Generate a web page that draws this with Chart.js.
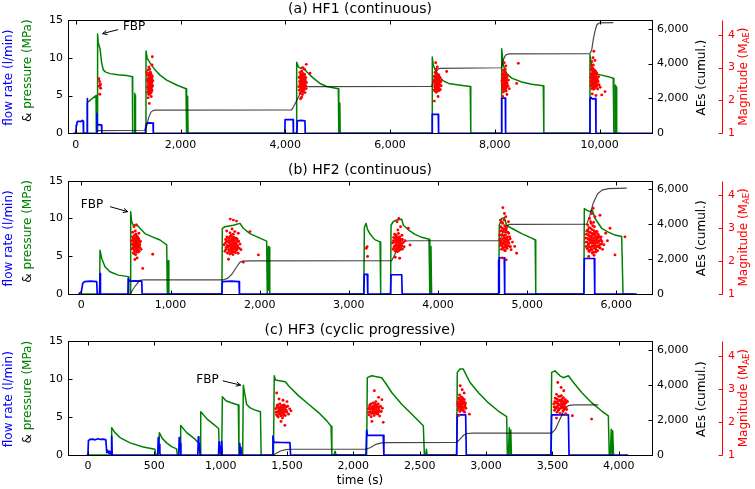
<!DOCTYPE html>
<html><head><meta charset="utf-8">
<script src="https://cdn.jsdelivr.net/npm/chart.js@4.4.1/dist/chart.umd.min.js"></script>
<style>
html,body{margin:0;padding:0;background:#fff;}
body{width:755px;height:489px;position:relative;overflow:hidden;}
canvas{position:absolute;left:0;}
</style></head><body>
<canvas id="cA" width="755" height="160" style="top:0px;width:755px;height:160px"></canvas>
<canvas id="cB" width="755" height="160" style="top:160px;width:755px;height:160px"></canvas>
<canvas id="cC" width="755" height="169" style="top:320px;width:755px;height:169px"></canvas>
<script>
// ---------------- tick labels ----------------
const hf1XTicks = [0, 2000, 4000, 6000, 8000, 10000];
const hf2XTicks = [0, 1000, 2000, 3000, 4000, 5000, 6000];
const hf3XTicks = [0, 500, 1000, 1500, 2000, 2500, 3000, 3500, 4000];
const pressureTicks = [0, 5, 10, 15];
const aeTicks = [0, 2000, 4000, 6000];
const magTicks = [1, 2, 3, 4];

// ---------------- HF1 ----------------
const hf1Pressure = [[0,0],[214,0],[218,4.1],[260,4.3],[310,4.6],[385,5.0],[390,0.2],[405,0.2],[415,13.15],[428,12.0],[461,11.2],[493,9.3],[524,8.4],[570,8.1],[652,7.9],[800,7.75],[971,7.65],[1078,7.5],[1085,0],[1118,0],[1124,5.3],[1130,0.4],[1136,5.0],[1142,0],[1334,0],[1339,10.9],[1364,9.9],[1402,9.5],[1448,9.0],[1511,8.4],[1607,7.7],[1734,7.05],[1925,6.4],[2103,5.9],[2108,0],[2120,0],[2126,4.9],[2132,0.3],[2137,4.6],[2142,0],[4210,0],[4216,9.4],[4247,8.8],[4293,8.6],[4342,8.7],[4407,8.15],[4533,7.3],[4661,6.6],[4789,6.2],[5011,5.9],[5020,0],[5034,0],[5040,4.0],[5047,0],[6800,0],[6805,10.1],[6824,9.0],[6862,8.4],[6925,7.7],[6990,7.05],[7116,6.6],[7307,6.4],[7530,6.2],[7540,0],[8124,0],[8130,11.2],[8161,9.0],[8226,7.9],[8321,7.3],[8512,6.8],[8703,6.5],[8924,6.3],[8935,0],[9810,0],[9816,10.4],[9859,8.4],[9910,7.9],[10038,7.7],[10165,7.5],[10260,7.3],[10272,0],[10296,0],[10302,6.4],[10318,6.1],[10326,0],[10400,0]];
const hf1Flow = [[-50,0],[0,0],[8,1.1],[20,1.45],[45,1.6],[90,1.55],[125,1.7],[140,1.6],[146,0],[214,0],[218,4.6],[223,0],[398,0],[402,2.65],[408,1.1],[450,1.15],[490,1.1],[495,0],[1322,0],[1330,0.6],[1345,1.2],[1362,1.35],[1420,1.38],[1474,1.35],[1479,0],[3990,0],[3995,1.8],[4148,1.8],[4153,0],[4222,0],[4227,1.65],[4300,1.7],[4374,1.65],[4379,0],[6800,0],[6805,2.5],[6920,2.5],[6925,0],[8125,0],[8130,4.65],[8200,4.65],[8205,0],[9811,0],[9816,4.6],[9835,4.75],[9860,4.55],[9925,4.6],[9930,0],[11000,0]];
const hf1AE = [[410,150],[1320,175],[1350,400],[1390,900],[1430,1200],[1470,1300],[1520,1330],[4120,1345],[4160,1550],[4230,1950],[4300,2400],[4360,2620],[4420,2680],[6793,2690],[6830,3050],[6870,3500],[6920,3700],[6960,3730],[8128,3760],[8150,4100],[8190,4420],[8226,4530],[8280,4560],[9816,4570],[9850,4800],[9880,5400],[9915,5900],[9943,6200],[9975,6300],[10007,6340],[10260,6350]];
const hf1MagC1 = [[440,2.66],[452,2.58],[468,2.50],[446,2.43],[474,2.37],[458,2.19],[463,2.46]];
const hf1MagC2 = [[1352,2.85],[1360,2.62],[1365,2.41],[1370,2.77],[1374,2.25],[1378,2.55],[1381,2.93],[1384,2.36],[1387,2.68],[1390,2.18],[1392,2.47],[1395,2.81],[1397,2.58],[1399,2.30],[1402,2.71],[1404,2.44],[1406,2.62],[1408,2.95],[1410,2.20],[1412,2.52],[1414,2.38],[1416,2.76],[1418,2.65],[1420,2.28],[1422,2.49],[1424,2.86],[1426,2.57],[1428,2.33],[1430,2.70],[1432,2.45],[1435,2.61],[1437,2.24],[1440,2.79],[1443,2.53],[1446,2.40],[1449,2.67],[1452,2.31],[1456,2.58],[1460,2.73],[1465,2.45],[1470,2.60],[1402,1.91],[1460,3.33],[1455,3.08],[1395,3.02],[1440,2.12],[1380,2.08],
  [1383,2.60],[1389,2.42],[1394,2.66],[1398,2.50],[1401,2.36],[1405,2.78],[1409,2.57],[1413,2.45],[1417,2.34],[1421,2.68],[1425,2.40],[1429,2.62],[1433,2.54],[1436,2.73],[1441,2.38],[1444,2.64],[1448,2.51],[1453,2.44],[1386,2.29],[1411,2.83],[1419,2.22],[1427,2.75],[1439,2.27],[1396,2.48],[1415,2.59]];
const hf1MagC3 = [[4255,2.42],[4262,2.70],[4268,2.31],[4273,2.58],[4278,2.85],[4283,2.22],[4287,2.49],[4291,2.66],[4295,2.37],[4299,2.78],[4302,2.55],[4306,2.29],[4309,2.62],[4312,2.44],[4315,2.90],[4318,2.35],[4321,2.71],[4324,2.51],[4327,2.18],[4330,2.60],[4333,2.40],[4336,2.82],[4339,2.53],[4342,2.26],[4345,2.68],[4348,2.46],[4351,2.75],[4354,2.33],[4357,2.57],[4360,2.64],[4364,2.41],[4368,2.79],[4372,2.50],[4376,2.24],[4380,2.62],[4385,2.45],[4390,2.70],[4396,2.36],[4402,2.55],[4400,3.10],[4470,2.83],[4290,2.05],[4330,3.00],[4365,2.95],[4310,2.10],
  [4281,2.52],[4286,2.74],[4292,2.45],[4297,2.61],[4301,2.39],[4305,2.81],[4308,2.50],[4313,2.67],[4317,2.28],[4320,2.56],[4323,2.43],[4326,2.73],[4329,2.34],[4332,2.65],[4335,2.49],[4338,2.70],[4341,2.38],[4344,2.58],[4347,2.31],[4350,2.62],[4353,2.48],[4356,2.77],[4359,2.40],[4362,2.55],[4366,2.68],[4370,2.36],[4374,2.59],[4378,2.47]];
const hf1MagC4 = [[6830,2.55],[6838,2.32],[6845,2.74],[6851,2.46],[6857,2.85],[6862,2.28],[6866,2.61],[6870,2.40],[6874,2.70],[6878,2.52],[6882,2.25],[6886,2.66],[6890,2.44],[6894,2.80],[6898,2.35],[6902,2.58],[6906,2.48],[6910,2.72],[6914,2.30],[6918,2.63],[6922,2.42],[6926,2.55],[6930,2.78],[6935,2.37],[6940,2.60],[6946,2.47],[6952,2.69],[6958,2.33],[6965,2.56],[6975,2.45],[6985,2.62],[6870,3.15],[6900,3.02],[7080,2.88],[6845,1.98],[6915,2.12],[6880,2.95],
  [6848,2.60],[6855,2.40],[6860,2.70],[6868,2.51],[6872,2.34],[6876,2.62],[6884,2.47],[6888,2.75],[6892,2.57],[6896,2.42],[6900,2.68],[6904,2.36],[6908,2.60],[6912,2.50],[6916,2.76],[6920,2.45],[6928,2.65],[6933,2.52],[6938,2.30],[6944,2.71]];
const hf1MagC5 = [[8135,2.60],[8142,2.35],[8148,2.78],[8153,2.48],[8158,2.92],[8163,2.26],[8167,2.66],[8171,2.43],[8175,2.85],[8179,2.55],[8183,2.31],[8187,2.72],[8191,2.50],[8195,2.95],[8199,2.38],[8203,2.64],[8207,2.46],[8211,2.80],[8215,2.29],[8219,2.58],[8224,2.41],[8229,2.69],[8235,2.52],[8242,2.76],[8250,2.44],[8260,2.62],[8275,2.36],[8180,3.15],[8210,3.05],[8448,3.13],[8416,2.52],[8150,2.12],[8230,2.18],
  [8140,2.50],[8146,2.70],[8151,2.38],[8156,2.62],[8160,2.80],[8165,2.45],[8169,2.56],[8173,2.34],[8177,2.70],[8181,2.62],[8185,2.42],[8189,2.86],[8193,2.58],[8197,2.47],[8201,2.75],[8205,2.55],[8209,2.36],[8213,2.66],[8217,2.49],[8222,2.60]];
const hf1MagC6 = [[9825,2.70],[9832,2.45],[9838,2.95],[9843,2.58],[9848,3.05],[9852,2.36],[9856,2.80],[9860,2.52],[9864,2.98],[9868,2.41],[9872,2.74],[9876,2.62],[9880,3.08],[9884,2.34],[9888,2.86],[9892,2.55],[9896,2.70],[9900,2.44],[9904,2.92],[9908,2.60],[9912,2.38],[9916,2.78],[9920,2.50],[9924,2.88],[9928,2.66],[9932,2.42],[9936,2.73],[9940,2.56],[9945,2.83],[9950,2.47],[9956,2.64],[9962,2.35],[9970,2.58],[9980,2.72],[9990,2.48],[9875,3.30],[9890,3.50],[9910,3.22],[9860,2.20],[9930,2.15],[10103,2.27],[10040,2.17],[10010,2.40],[9850,3.18],
  [9830,2.58],[9836,2.80],[9841,2.47],[9846,2.72],[9850,2.62],[9854,2.92],[9858,2.68],[9862,2.45],[9866,2.85],[9870,2.56],[9874,2.97],[9878,2.48],[9882,2.75],[9886,2.64],[9890,2.40],[9894,2.82],[9898,2.58],[9902,2.76],[9906,2.50],[9910,2.88],[9914,2.66],[9918,2.44],[9922,2.72],[9926,2.57],[9930,2.80],[9934,2.52],[9938,2.65],[9943,2.43],[9948,2.70],[9953,2.58]];
const hf1Fbp = [510, 13.2];

// ---------------- HF2 ----------------
const hf2Pressure = [[0,0],[204,0],[209,5.8],[228,4.7],[265,3.6],[321,2.95],[414,2.5],[526,2.3],[532,0],[548,0],[553,10.9],[564,9.6],[582,9.1],[620,9.2],[657,8.7],[713,8.0],[789,7.6],[882,7.15],[957,6.5],[964,0],[970,0],[975,4.4],[981,0],[1576,0],[1581,8.7],[1611,8.9],[1704,9.1],[1779,9.35],[1816,8.7],[1891,8.0],[2003,7.4],[2078,7.0],[2085,0],[2093,0],[2097,6.3],[2102,0.5],[2107,6.2],[2113,0],[3168,0],[3174,8.8],[3193,9.35],[3208,8.6],[3240,7.9],[3290,7.2],[3350,6.9],[3357,0],[3468,0],[3473,9.1],[3499,9.6],[3537,9.8],[3593,9.9],[3611,9.1],[3667,8.5],[3742,7.9],[3817,7.5],[3899,7.25],[3908,0],[3916,0],[3921,6.3],[3928,0],[4682,0],[4687,9.1],[4714,10.0],[4743,10.1],[4770,9.1],[4826,8.7],[4939,8.0],[5051,7.4],[5090,7.15],[5096,0],[5636,0],[5641,11.3],[5668,11.1],[5705,10.9],[5731,11.1],[5761,10.0],[5836,8.7],[5910,8.2],[5985,7.8],[6060,7.6],[6075,0],[6200,0]];
const hf2Flow = [[-30,0],[0,0.3],[15,1.4],[35,1.65],[100,1.7],[172,1.65],[178,0],[205,0],[209,2.7],[214,0],[522,0],[526,2.0],[535,1.8],[545,1.7],[600,1.75],[677,1.7],[682,0],[1576,0],[1581,1.65],[1680,1.7],[1768,1.65],[1773,0],[3168,0],[3173,2.6],[3207,2.6],[3212,0],[3468,0],[3473,2.55],[3593,2.55],[3598,0],[4676,0],[4680,4.5],[4684,0.2],[4687,4.8],[4743,4.8],[4748,0],[5636,0],[5641,4.7],[5753,4.7],[5758,0],[6230,0]];
const hf2AE = [[550,0],[570,200],[610,500],[657,790],[700,805],[1592,815],[1640,900],[1690,1150],[1740,1550],[1780,1830],[1810,1890],[1900,1900],[3480,1910],[3510,2200],[3550,2650],[3600,2950],[3640,3040],[3700,3055],[4695,3065],[4720,3450],[4760,3850],[4795,3990],[4850,4000],[5668,4010],[5700,4450],[5740,5200],[5790,5750],[5840,5960],[5910,6050],[6116,6075]];
const hf2MagC1 = [[560,2.62],[567,2.38],[573,2.74],[578,2.50],[583,2.25],[587,2.66],[591,2.43],[595,2.78],[598,2.32],[601,2.57],[604,2.46],[607,2.70],[610,2.20],[613,2.54],[616,2.40],[619,2.64],[622,2.28],[625,2.58],[628,2.47],[631,2.72],[634,2.35],[637,2.55],[640,2.44],[644,2.68],[648,2.30],[652,2.52],[657,2.41],[663,2.60],[670,2.36],[590,3.05],[615,3.10],[605,2.92],[600,2.05],[625,2.10],[688,1.78],[800,2.21],[575,2.88],[645,2.85],
  [570,2.52],[576,2.62],[580,2.41],[585,2.70],[589,2.55],[593,2.35],[596,2.62],[599,2.48],[603,2.68],[606,2.30],[609,2.60],[612,2.44],[615,2.72],[618,2.52],[621,2.38],[624,2.66],[627,2.33],[630,2.56],[633,2.48],[636,2.64],[639,2.28],[642,2.54],[646,2.44],[650,2.62],[655,2.50],[611,2.82],[597,2.22],[623,2.76]];
const hf2MagC2 = [[1600,2.50],[1610,2.30],[1618,2.66],[1625,2.42],[1632,2.74],[1638,2.25],[1644,2.58],[1650,2.36],[1655,2.70],[1660,2.47],[1665,2.22],[1670,2.62],[1675,2.40],[1680,2.78],[1684,2.52],[1688,2.31],[1692,2.66],[1696,2.45],[1700,2.20],[1704,2.58],[1708,2.37],[1712,2.72],[1716,2.49],[1720,2.28],[1725,2.64],[1730,2.41],[1735,2.55],[1740,2.33],[1746,2.68],[1752,2.46],[1758,2.24],[1765,2.60],[1772,2.39],[1780,2.52],[1790,2.35],[1670,3.28],[1705,3.25],[1740,3.22],[1690,2.98],[1720,2.90],[1891,2.90],[1985,2.19],[1816,1.97],[1650,2.06],[1760,2.85],[1630,2.92],
  [1615,2.55],[1622,2.36],[1628,2.60],[1635,2.48],[1641,2.70],[1647,2.44],[1652,2.62],[1658,2.30],[1662,2.55],[1667,2.75],[1672,2.48],[1677,2.60],[1682,2.35],[1686,2.68],[1690,2.50],[1694,2.40],[1698,2.72],[1702,2.46],[1706,2.63],[1710,2.29],[1714,2.55],[1718,2.67],[1722,2.44],[1727,2.52],[1732,2.70],[1737,2.38],[1742,2.58],[1748,2.48],[1754,2.62],[1760,2.40],[1668,2.86],[1703,2.82],[1685,2.25],[1728,2.26]];
const hf2MagC3 = [[3205,2.44],[3210,2.14],[3195,2.39]];
const hf2MagC4 = [[3490,2.55],[3497,2.36],[3503,2.72],[3509,2.45],[3514,2.82],[3519,2.31],[3524,2.64],[3528,2.48],[3532,2.76],[3536,2.39],[3540,2.58],[3544,2.29],[3548,2.68],[3552,2.50],[3556,2.84],[3560,2.42],[3564,2.61],[3568,2.34],[3572,2.74],[3576,2.53],[3580,2.40],[3585,2.66],[3590,2.46],[3596,2.79],[3602,2.37],[3610,2.57],[3620,2.44],[3630,2.62],[3540,3.20],[3560,3.30],[3580,3.05],[3667,3.00],[3686,2.49],[3520,2.12],[3570,2.09],[3550,2.95],
  [3500,2.62],[3506,2.41],[3511,2.58],[3516,2.70],[3521,2.46],[3526,2.80],[3530,2.52],[3534,2.36],[3538,2.66],[3542,2.48],[3546,2.74],[3550,2.40],[3554,2.60],[3558,2.32],[3562,2.70],[3566,2.50],[3570,2.58],[3574,2.44],[3578,2.64],[3583,2.36],[3588,2.56],[3594,2.48],[3600,2.66]];
const hf2MagC5 = [[4690,2.80],[4697,2.48],[4703,3.05],[4708,2.62],[4713,2.36],[4718,2.92],[4722,2.55],[4726,3.15],[4730,2.42],[4734,2.78],[4738,2.60],[4742,2.98],[4746,2.33],[4750,2.70],[4754,2.50],[4758,2.88],[4762,2.44],[4766,2.66],[4770,3.02],[4775,2.39],[4780,2.74],[4786,2.57],[4792,2.85],[4800,2.46],[4810,2.68],[4820,2.35],[4835,2.58],[4727,3.63],[4760,3.35],[4745,3.45],[4882,2.24],[4860,2.45],[4720,2.10],[4765,2.04],[4700,3.25],[4790,3.20],
  [4693,2.66],[4700,2.92],[4705,2.55],[4710,2.80],[4715,2.48],[4720,3.00],[4724,2.68],[4728,2.40],[4732,2.90],[4736,2.52],[4740,2.74],[4744,2.62],[4748,3.08],[4752,2.42],[4756,2.80],[4760,2.58],[4764,2.95],[4768,2.50],[4772,2.70],[4777,2.46],[4782,2.88],[4788,2.63],[4795,2.55],[4803,2.74],[4812,2.44],[4718,3.18],[4740,3.25],[4755,2.32]];
const hf2MagC6 = [[5655,2.70],[5662,2.45],[5668,2.92],[5673,2.58],[5678,3.10],[5682,2.36],[5686,2.80],[5690,2.52],[5694,3.02],[5698,2.30],[5702,2.66],[5706,2.88],[5710,2.42],[5714,2.74],[5718,3.15],[5722,2.55],[5726,2.34],[5730,2.96],[5734,2.62],[5738,2.46],[5742,2.84],[5746,2.27],[5750,2.70],[5754,3.05],[5758,2.50],[5762,2.78],[5766,2.38],[5770,2.64],[5774,2.90],[5778,2.44],[5782,2.72],[5786,2.56],[5790,2.32],[5795,2.82],[5800,2.60],[5806,2.48],[5812,2.74],[5818,2.40],[5825,2.66],[5835,2.52],[5845,2.36],[5700,3.30],[5725,3.45],[5760,3.35],[5740,3.61],[5817,3.40],[5929,3.00],[5985,2.19],[6097,2.74],[5880,2.85],[5690,2.14],[5750,2.18],[5860,2.50],[5900,2.62],
  [5658,2.58],[5664,2.82],[5670,2.40],[5675,2.70],[5680,2.95],[5684,2.50],[5688,2.66],[5692,2.88],[5696,2.44],[5700,2.76],[5704,2.56],[5708,3.00],[5712,2.62],[5716,2.36],[5720,2.85],[5724,2.68],[5728,2.46],[5732,2.78],[5736,3.08],[5740,2.55],[5744,2.70],[5748,2.40],[5752,2.92],[5756,2.62],[5760,2.48],[5764,2.84],[5768,2.56],[5772,2.74],[5776,2.33],[5780,2.66],[5784,2.90],[5788,2.46],[5792,2.70],[5797,2.58],[5802,2.76],[5808,2.42],[5814,2.62],[5820,2.52],[5828,2.74],[5838,2.60],[5712,3.20],[5745,3.18],[5695,2.30],[5770,2.28],[5730,2.25]];
const hf2Fbp = [520, 10.9];

// ---------------- HF3 ----------------
const hf3Pressure = [[0,0],[174,0],[179,3.6],[204,2.95],[242,2.3],[317,1.6],[417,1.06],[505,0.75],[511,0],[533,0],[538,2.95],[560,2.2],[593,1.6],[630,1.1],[668,0.8],[674,0],[694,0],[699,3.9],[744,2.95],[800,2.2],[839,1.5],[845,0],[848,0],[852,5.7],[900,4.7],[950,4.0],[985,3.5],[991,0],[1008,0],[1013,7.7],[1040,7.15],[1080,6.9],[1133,6.6],[1138,0],[1166,0],[1171,9.2],[1185,7.8],[1195,6.7],[1220,6.25],[1255,5.95],[1300,5.7],[1305,0],[1398,0],[1404,10.45],[1413,9.9],[1488,9.66],[1513,9.1],[1588,7.8],[1663,6.7],[1738,5.6],[1800,4.5],[1832,3.8],[1838,0],[1855,0],[1862,0.5],[1870,0],[2100,0],[2105,10.2],[2138,10.45],[2213,10.2],[2238,9.6],[2289,8.25],[2364,6.7],[2439,5.4],[2527,3.85],[2535,0],[2545,0],[2550,0.75],[2556,0],[2778,0],[2783,10.9],[2803,11.35],[2828,11.35],[2840,10.9],[2878,9.6],[2941,8.25],[3016,6.9],[3092,5.8],[3155,5.07],[3160,0],[3168,0],[3175,3.6],[3181,0],[3186,3.3],[3191,0],[3489,0],[3494,10.9],[3519,11.1],[3557,10.45],[3582,10.2],[3620,10.45],[3657,9.6],[3720,8.25],[3795,6.9],[3871,5.8],[3921,5.15],[3928,0],[3936,0],[3943,3.4],[3949,0],[3954,3.2],[3960,0]];
const hf3Flow = [[-10,0],[0,0],[4,1.9],[15,2.05],[35,2.1],[55,2.0],[75,2.15],[95,2.05],[115,2.1],[135,2.0],[142,0.3],[150,0.6],[158,0.2],[165,0.5],[172,0],[176,0],[179,2.5],[183,0],[526,0],[530,2.3],[534,0.7],[538,1.4],[542,0.2],[548,0],[684,0],[688,2.3],[692,0.8],[696,1.5],[700,0],[828,0],[832,2.4],[836,0.7],[840,1.5],[846,0],[984,0],[988,1.7],[992,0.4],[1000,1.1],[1004,0],[1008,1.8],[1012,0],[1140,0],[1144,1.5],[1148,0.4],[1152,1.0],[1158,0],[1390,0],[1394,2.5],[1400,1.7],[1460,1.65],[1522,1.63],[1527,0],[2095,0],[2100,3.3],[2106,2.6],[2225,2.6],[2230,0],[2778,0],[2783,5.3],[2846,5.3],[2851,0],[3489,0],[3494,5.3],[3620,5.3],[3625,0],[4071,0]];
const hf3AE = [[1397,0],[1420,100],[1450,230],[1490,310],[1530,330],[2100,340],[2130,430],[2170,610],[2213,690],[2260,705],[2778,715],[2800,880],[2830,1130],[2853,1230],[2900,1245],[3494,1255],[3520,1450],[3560,2100],[3590,2600],[3620,2820],[3660,2865],[3846,2870]];
const hf3MagC5 = [[1415,2.40],[1421,2.22],[1426,2.50],[1430,2.31],[1434,2.15],[1438,2.44],[1442,2.28],[1446,2.55],[1450,2.36],[1454,2.19],[1458,2.47],[1462,2.33],[1466,2.12],[1470,2.42],[1474,2.26],[1478,2.52],[1482,2.38],[1487,2.20],[1492,2.45],[1498,2.30],[1505,2.48],[1512,2.24],[1520,2.40],[1530,2.34],[1422,2.88],[1440,2.70],[1470,2.66],[1484,1.90],[1500,2.62],[1455,2.02],
  [1418,2.30],[1424,2.44],[1428,2.18],[1432,2.52],[1436,2.35],[1440,2.24],[1444,2.40],[1448,2.30],[1452,2.46],[1456,2.26],[1460,2.38],[1464,2.50],[1468,2.32],[1472,2.20],[1476,2.44],[1480,2.30],[1486,2.48],[1494,2.36]];
const hf3MagC6 = [[2112,2.40],[2118,2.22],[2124,2.52],[2129,2.31],[2134,2.16],[2139,2.46],[2144,2.28],[2149,2.58],[2153,2.36],[2157,2.20],[2161,2.50],[2165,2.34],[2169,2.62],[2173,2.25],[2177,2.44],[2182,2.30],[2187,2.55],[2192,2.38],[2198,2.18],[2204,2.48],[2210,2.32],[2218,2.42],[2158,2.95],[2190,2.75],[2225,1.99],[2140,2.02],[2215,2.68],
  [2115,2.30],[2121,2.46],[2127,2.38],[2132,2.55],[2137,2.26],[2142,2.40],[2147,2.33],[2151,2.48],[2155,2.28],[2159,2.42],[2163,2.56],[2167,2.30],[2171,2.45],[2175,2.35],[2180,2.52],[2185,2.24],[2190,2.44],[2196,2.32]];
const hf3MagC7 = [[2786,2.55],[2790,2.38],[2794,2.72],[2797,2.46],[2800,2.82],[2803,2.32],[2806,2.62],[2809,2.50],[2812,2.76],[2815,2.40],[2818,2.66],[2821,2.54],[2824,2.35],[2827,2.70],[2830,2.45],[2834,2.60],[2838,2.30],[2842,2.52],[2848,2.42],[2805,3.10],[2820,2.98],[2874,2.24],[2795,2.20],[2835,2.88],
  [2788,2.62],[2792,2.48],[2796,2.56],[2799,2.70],[2802,2.44],[2805,2.52],[2808,2.66],[2811,2.38],[2814,2.58],[2817,2.48],[2820,2.74],[2823,2.44],[2826,2.60],[2829,2.36],[2832,2.55],[2836,2.68],[2840,2.46],[2844,2.58]];
const hf3MagC8 = [[3510,2.55],[3516,2.36],[3521,2.72],[3526,2.46],[3531,2.84],[3535,2.30],[3539,2.62],[3543,2.50],[3547,2.78],[3551,2.40],[3555,2.66],[3559,2.26],[3563,2.56],[3567,2.80],[3571,2.44],[3575,2.64],[3579,2.34],[3583,2.74],[3587,2.52],[3591,2.42],[3596,2.68],[3601,2.58],[3607,2.38],[3613,2.62],[3540,3.20],[3565,3.05],[3585,2.95],[3795,2.09],[3650,2.19],[3530,2.12],[3600,2.25],
  [3513,2.46],[3518,2.62],[3523,2.40],[3528,2.58],[3533,2.70],[3537,2.44],[3541,2.56],[3545,2.36],[3549,2.66],[3553,2.52],[3557,2.78],[3561,2.42],[3565,2.62],[3569,2.48],[3573,2.70],[3577,2.54],[3581,2.44],[3585,2.60],[3589,2.38],[3594,2.56],[3599,2.46],[3605,2.64]];
const hf3Fbp = [1151, 9.22];

// ---------------- drawing ----------------
Chart.defaults.font.family = '"DejaVu Sans", sans-serif';
Chart.defaults.font.size = 11;
Chart.defaults.color = '#000';

const FONT = '"DejaVu Sans", sans-serif';
const xy = arr => arr.map(p => ({x: p[0], y: p[1]}));
const fmt = v => String(v).replace(/\B(?=(\d{3})+(?!\d))/g, ',');
const setTicks = list => (s => { s.ticks = list.map(v => ({value: v})); });

function vtext(c, x, y, parts) {
  c.save();
  c.translate(x, y);
  c.rotate(-Math.PI / 2);
  c.textBaseline = 'middle';
  c.textAlign = 'left';
  let w = 0;
  parts.forEach(p => { c.font = p.font; p.w = c.measureText(p.t).width; w += p.w; });
  let cx = -w / 2;
  parts.forEach(p => { c.font = p.font; c.fillStyle = p.color; c.fillText(p.t, cx, p.dy || 0); cx += p.w; });
  c.restore();
}

function makeDecor(cfg) {
  return {
    id: 'decor',
    afterDraw(chart) {
      const c = chart.ctx, a = chart.chartArea, s = chart.scales;
      const L = Math.round(a.left) + 0.5, R = Math.round(a.right) + 0.5;
      const T = Math.round(a.top) + 0.5, B = Math.round(a.bottom) + 0.5;
      const TL = 4;
      c.save();
      c.lineWidth = 1;
      c.strokeStyle = '#000';
      c.strokeRect(L, T, R - L, B - T);
      c.beginPath();
      s.x.ticks.forEach(t => {
        const x = Math.round(s.x.getPixelForValue(t.value)) + 0.5;
        c.moveTo(x, B); c.lineTo(x, B - TL);
        c.moveTo(x, T); c.lineTo(x, T + TL);
      });
      s.y.ticks.forEach(t => {
        const y = Math.round(s.y.getPixelForValue(t.value)) + 0.5;
        c.moveTo(L, y); c.lineTo(L + TL, y);
      });
      s.yAE.ticks.forEach(t => {
        const y = Math.round(s.yAE.getPixelForValue(t.value)) + 0.5;
        c.moveTo(R, y); c.lineTo(R - TL, y);
      });
      c.stroke();
      const rx = Math.round(s.yM.left) + 0.5;
      c.strokeStyle = '#ff0000';
      c.beginPath();
      c.moveTo(rx, T); c.lineTo(rx, B);
      s.yM.ticks.forEach(t => {
        const y = Math.round(s.yM.getPixelForValue(t.value)) + 0.5;
        c.moveTo(rx, y); c.lineTo(rx - TL, y);
      });
      c.stroke();
      const cxm = (a.left + a.right) / 2, cym = (a.top + a.bottom) / 2;
      c.fillStyle = '#000';
      c.font = '14px ' + FONT;
      c.textAlign = 'center'; c.textBaseline = 'middle';
      c.fillText(cfg.title, cxm, cfg.titleY);
      if (cfg.xlabel) {
        c.font = '12px ' + FONT;
        c.fillText(cfg.xlabel, cxm, cfg.xlabelY);
      }
      const f12 = '12px ' + FONT;
      vtext(c, 9, cym + 1, [{t: 'flow rate (l/min)', color: '#0000ff', font: f12}]);
      vtext(c, 28, cym - 6, [{t: '& ', color: '#000', font: f12}, {t: 'pressure (MPa)', color: '#008000', font: f12}]);
      vtext(c, 701.5, cym + 1, [{t: 'AEs (cumul.)', color: '#000', font: f12}]);
      vtext(c, 744, cym, [{t: 'Magnitude (M', color: '#ff0000', font: f12}, {t: 'AE', color: '#ff0000', font: '8.5px ' + FONT, dy: 3}, {t: ')', color: '#ff0000', font: f12}]);
      const tipX = s.x.getPixelForValue(cfg.fbp[0]);
      const tipY = s.y.getPixelForValue(cfg.fbp[1]);
      const tx = tipX + cfg.tail[0], ty = tipY + cfg.tail[1];
      c.strokeStyle = '#000'; c.lineWidth = 1;
      c.beginPath(); c.moveTo(tx, ty); c.lineTo(tipX, tipY); c.stroke();
      const ang = Math.atan2(tipY - ty, tipX - tx);
      c.beginPath();
      c.moveTo(tipX - 5 * Math.cos(ang - 0.45), tipY - 5 * Math.sin(ang - 0.45));
      c.lineTo(tipX, tipY);
      c.lineTo(tipX - 5 * Math.cos(ang + 0.45), tipY - 5 * Math.sin(ang + 0.45));
      c.stroke();
      c.font = '12px ' + FONT; c.fillStyle = '#000';
      c.textAlign = 'center'; c.textBaseline = 'middle';
      c.fillText('FBP', tipX + cfg.text[0], tipY + cfg.text[1]);
      c.restore();
    }
  };
}

function makePanel(p) {
  const H = p.h;
  const axisBase = {grid: {display: false, drawTicks: false}, border: {display: false}};
  new Chart(document.getElementById(p.id), {
    type: 'scatter',
    data: {datasets: [
      {label: 'magnitude', data: xy(p.mag), yAxisID: 'yM', showLine: false, pointRadius: 1.45, pointBackgroundColor: '#ff0000', pointBorderWidth: 0, backgroundColor: '#ff0000', order: 0},
      {label: 'AEs', data: xy(p.ae), yAxisID: 'yAE', showLine: true, borderColor: 'rgba(0,0,0,0.72)', borderWidth: 1.2, pointRadius: 0, fill: false, borderJoinStyle: 'round', order: 1},
      {label: 'flow', data: xy(p.flow), yAxisID: 'y', showLine: true, borderColor: '#0000ff', borderWidth: 1.7, pointRadius: 0, fill: false, borderJoinStyle: 'round', order: 2},
      {label: 'pressure', data: xy(p.pres), yAxisID: 'y', showLine: true, borderColor: '#008000', borderWidth: 1.5, pointRadius: 0, fill: false, borderJoinStyle: 'round', order: 3}
    ]},
    options: {
      responsive: false, animation: false, devicePixelRatio: 1,
      layout: {padding: {top: p.top, left: 0, right: 0, bottom: 0}},
      plugins: {legend: {display: false}, tooltip: {enabled: false}},
      scales: {
        x: Object.assign({type: 'linear', position: 'bottom', min: p.xmin, max: p.xmax,
          afterBuildTicks: setTicks(p.xticks),
          ticks: {callback: v => fmt(v), maxRotation: 0, minRotation: 0, autoSkip: false, padding: 5, color: '#000'},
          afterFit: s => { s.height = H - p.bottom; }}, axisBase),
        y: Object.assign({type: 'linear', position: 'left', min: 0, max: 15,
          afterBuildTicks: setTicks(pressureTicks),
          ticks: {padding: 5, color: '#000'},
          afterFit: s => { s.width = 68; }}, axisBase),
        yAE: Object.assign({type: 'linear', position: 'right', weight: 0, min: 0, max: 6500,
          afterBuildTicks: setTicks(aeTicks),
          ticks: {padding: 5, color: '#000', callback: v => fmt(v)},
          afterFit: s => { s.width = 70; }}, axisBase),
        yM: Object.assign({type: 'linear', position: 'right', weight: 1, min: 1, max: 4.45,
          afterBuildTicks: setTicks(magTicks),
          ticks: {padding: 6, color: '#ff0000'},
          afterFit: s => { s.width = 33; }}, axisBase)
      }
    },
    plugins: [makeDecor(p)]
  });
}

makePanel({id: 'cA', h: 160, top: 20, bottom: 133.3, xmin: -150, xmax: 11000, xticks: hf1XTicks,
  pres: hf1Pressure, flow: hf1Flow, ae: hf1AE,
  mag: [].concat(hf1MagC1, hf1MagC2, hf1MagC3, hf1MagC4, hf1MagC5, hf1MagC6),
  title: '(a) HF1 (continuous)', titleY: 9.5, fbp: hf1Fbp, tail: [15.6, -4], text: [31.5, -6.6]});
makePanel({id: 'cB', h: 160, top: 20.7, bottom: 134, xmin: -150, xmax: 6400, xticks: hf2XTicks,
  pres: hf2Pressure, flow: hf2Flow, ae: hf2AE,
  mag: [].concat(hf2MagC1, hf2MagC2, hf2MagC3, hf2MagC4, hf2MagC5, hf2MagC6),
  title: '(b) HF2 (continuous)', titleY: 10, fbp: hf2Fbp, tail: [-17.7, -5], text: [-35.7, -6.7]});
makePanel({id: 'cC', h: 169, top: 21.3, bottom: 135, xmin: -150, xmax: 4250, xticks: hf3XTicks,
  pres: hf3Pressure, flow: hf3Flow, ae: hf3AE,
  mag: [].concat(hf3MagC5, hf3MagC6, hf3MagC7, hf3MagC8),
  title: '(c) HF3 (cyclic progressive)', titleY: 10, xlabel: 'time (s)', xlabelY: 161,
  fbp: hf3Fbp, tail: [-18, -4.3], text: [-33.2, -5.3]});
</script></body></html>
